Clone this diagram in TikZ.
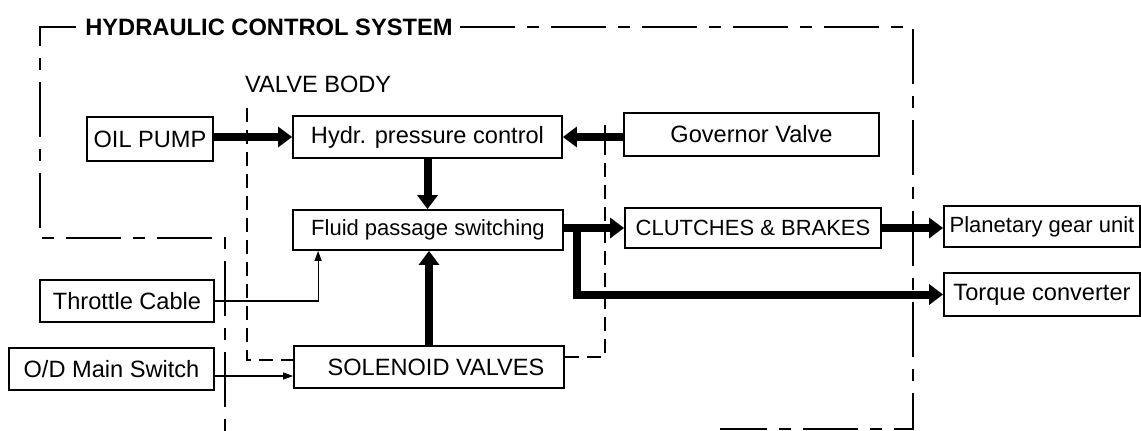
\documentclass[tikz,border=0pt]{standalone}
\usepackage{fontspec}
\setmainfont{Liberation Sans}
\usetikzlibrary{arrows.meta}

\begin{document}
\begin{tikzpicture}[x=1pt,y=-1pt,
        unit/.style={draw,line width=1.8pt,inner sep=0pt,font=\fontsize{23.6}{28}\selectfont},
        narrow/.style={font=\fontsize{22}{26}\selectfont},
        flow/.style={line width=8pt,-{Triangle[length=14pt,width=20pt]}},
        signal/.style={line width=1.2pt,-{Triangle[length=10pt,width=7pt]}},
        sysline/.style={line width=1.5pt,dash pattern=on 55pt off 12pt on 12pt off 12pt},
        bodyline/.style={line width=1.5pt,dash pattern=on 14pt off 8pt}]
        \useasboundingbox (0,0) rectangle (1141,431);
        \node[unit,minimum width=126pt,minimum height=44pt] (pump) at (150,139) {OIL PUMP};
        \node[unit,minimum width=269pt,minimum height=42pt] (hydr) at (427.5,137) {Hydr. pressure control};
        \node[unit,minimum width=255pt,minimum height=43pt] (governor) at (751.5,134.5) {Governor Valve};
        \node[unit,narrow,minimum width=270pt,minimum height=40pt] (fluid) at (428,230) {Fluid passage switching};
        \node[unit,narrow,minimum width=256pt,minimum height=40pt] (clutches) at (753,228) {CLUTCHES \& BRAKES};
        \node[unit,narrow,minimum width=196pt,minimum height=41pt] (planetary) at (1042,226.5) {Planetary gear unit};
        \node[unit,minimum width=196pt,minimum height=43pt] (torque) at (1042,294.5) {Torque converter};
        \node[unit,minimum width=174pt,minimum height=42pt] (throttle) at (127,301) {Throttle Cable};
        \node[unit,minimum width=205pt,minimum height=42pt] (odswitch) at (111.5,369) {O/D Main Switch};
        \node[unit,minimum width=270pt,minimum height=42pt] (solenoid) at (429,367) {\hspace*{14pt}SOLENOID VALVES};
        \node[inner sep=0pt,font=\fontsize{23.7}{28}\selectfont\bfseries] (title) at (269,27) {HYDRAULIC CONTROL SYSTEM};
        \node[inner sep=0pt,anchor=west,font=\fontsize{23.6}{28}\selectfont] (body) at (245,84) {VALVE BODY};
        \draw[sysline] ([xshift=-9pt]title.west) -- (40,27) -- (40,238) -- (225,238) -- (225,431);
        \draw[sysline] ([xshift=7pt]title.east) -- (913,27) -- (913,429) -- (720,429);
        \draw[bodyline] (247,108) |- ([yshift=7pt]solenoid.west);
        \draw[bodyline] ([yshift=10pt]solenoid.east) -| (605,125);
        \draw[flow] (pump.east |- hydr) -- (hydr);
        \draw[flow] (governor.west |- hydr) -- (hydr);
        \draw[flow] (hydr.south) -- (hydr.south |- fluid.north);
        \draw[flow] (solenoid.north) -- (solenoid.north |- fluid.south);
        \draw[flow] (fluid.east |- clutches) -- (clutches);
        \coordinate (split) at (577,228);
        \draw[flow] (split) |- (torque);
        \draw[flow] (clutches.east) -- (clutches.east -| planetary.west);
        \draw[signal] (throttle.east) -| ([xshift=26pt]fluid.south west);
        \draw[signal] ([yshift=-7pt]odswitch.east) -- ([yshift=-7pt]odswitch.east -| solenoid.west);
      \end{tikzpicture}
\end{document}
